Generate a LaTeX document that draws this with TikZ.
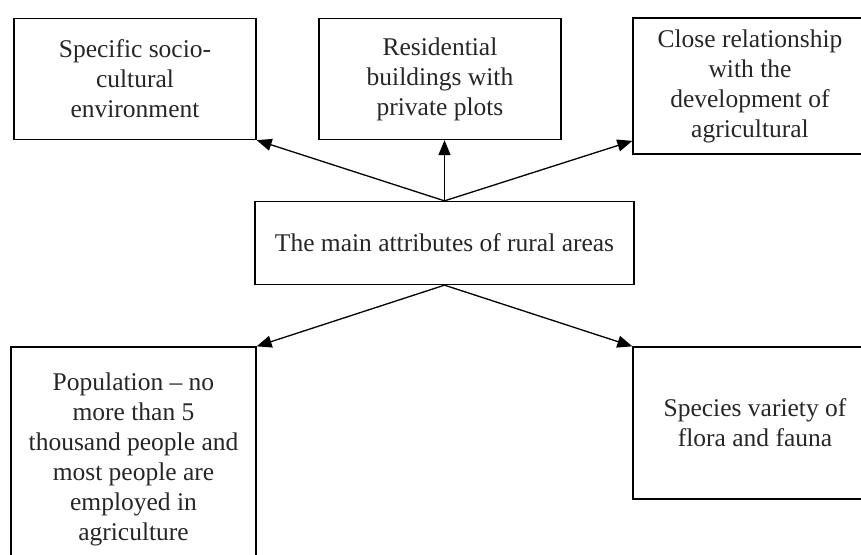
\documentclass[tikz,border=0pt]{standalone}
\usepackage{fontspec}
\setmainfont{Liberation Serif}
\usetikzlibrary{arrows.meta}
\begin{document}
\begin{tikzpicture}[x=1pt, y=-1pt,
        box/.style={draw, rectangle, line width=1.3pt, inner sep=0pt, align=center,
            font=\fontsize{25.5}{30}\selectfont, text=black!85},
        link/.style={line width=1.3pt, -{Triangle[length=15pt, width=12pt]}}]
            \clip (0,0) rectangle (861,554);

            % top row
            \node (socio) at (135,79) [box, minimum width=242pt, minimum height=121pt] {Specific socio-\\cultural\\environment};
            \node (homes) at (440,79) [box, minimum width=242pt, minimum height=121pt] {Residential\\buildings with\\private plots};
            \node (agri) at (750,86) [box, minimum width=234pt, minimum height=136pt] {Close relationship\\with the\\development of\\agricultural};

            % middle
            \node (main) at (444.5,243) [box, minimum width=379pt, minimum height=83pt] {The main attributes of rural areas};

            % bottom row
            \node (people) at (133.5,459) [box, minimum width=245pt, minimum height=224pt] {Population -- no\\more than 5\\thousand people and\\most people are\\employed in\\agriculture};
            \node (species) at (755,423) [box, minimum width=244pt, minimum height=152pt] {Species variety of\\flora and fauna};

            \draw[link] (main.north) -- (socio.south east);
            \draw[link] (main.north) -- (main.north |- homes.south);
            \draw[link] (main.north) -- (agri.205);
            \draw[link] (main.south) -- (people.north east);
            \draw[link] (main.south) -- (species.north west);
        \end{tikzpicture}
\end{document}
